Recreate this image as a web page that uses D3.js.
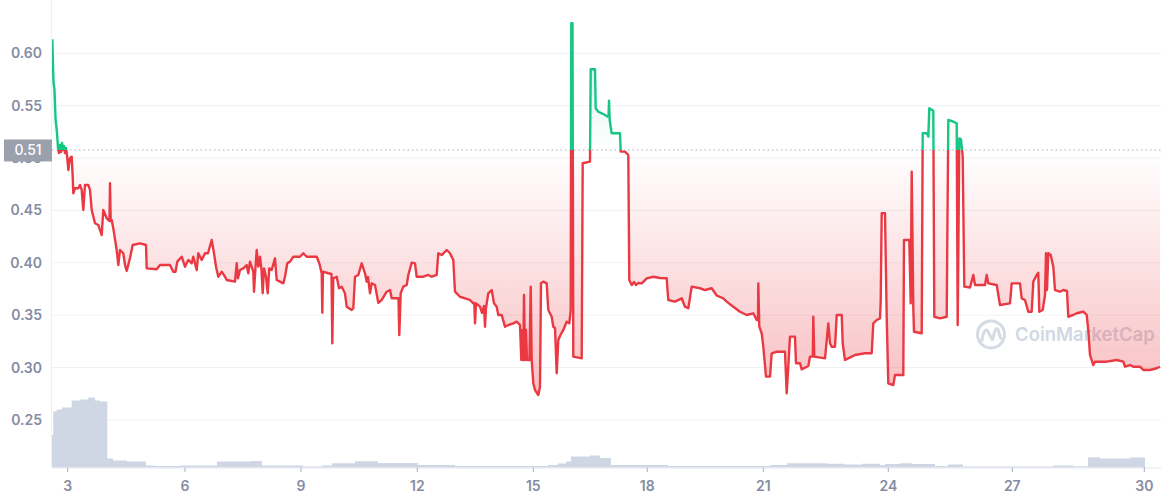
<!DOCTYPE html>
<html><head><meta charset="utf-8">
<script src="https://cdn.jsdelivr.net/npm/d3@7"></script>
<style>body{margin:0;background:#fff;overflow:hidden} svg{display:block;font-family:Inter,"Noto Sans",sans-serif}</style>
</head><body><svg id="c" width="1161" height="500"></svg>
<script>
// ---- data (sample index along the time axis, price in USD) ----
const sampleIndex = [0.3,1,1.5,2.5,3.5,5,6,7,8,9,10,11,12,13,14,15,16.3,18,19.7,20.7,21.3,23,26.3,28,29.7,31.3,33,36.3,38,39.7,43,46.3,49.7,51.3,54.7,56.3,57.5,58,58.7,59.7,61.3,64.7,66.3,68,71.3,73,74.7,78,80.7,88,94,94.7,104.7,108,118,121.3,123.5,125.3,129.7,133,136.3,139.7,141.3,144.7,146.3,149.7,153,156,159.7,162,164,166.3,169.7,173,174.7,183,184.7,186,188,191.3,194.7,196.3,198,201.3,202,203,204.7,206.3,208,209.5,210.7,212,214,215.7,217.3,219.7,223,224.7,228,231.3,233,235.3,238,241.3,248,251.3,254.7,264.7,267.3,269.7,270.3,271,276.3,279.5,280.3,281.3,284.7,287,289.7,293,294.7,299.7,301.3,303,306.3,309.7,313,314.7,316,318,319.7,323,326.3,329.7,334.7,338,339.7,346.5,347.3,348.7,351.3,354.7,356.3,359.7,363,364.7,371.3,376.3,379.7,384.7,386.3,389.7,394.7,398,401.3,403,408,413,418,421.3,422.3,423,424,428,430,432,433,434,436.3,439.7,442,444.7,446.3,449.7,453,456.3,461.3,464.7,468,469.3,470.5,471.3,472,473,474,475,477.5,478.7,479.7,481.3,483,486.3,488,489,491.3,494.7,496.3,499.7,501.3,503,504.7,506.3,508,511.3,514.7,517.3,518.7,519.3,520.5,521.3,529.7,530.7,538,538.7,543,543.7,546.3,549.7,553,555.3,556.5,557,557.7,558.7,559.7,568,568.7,573,576.3,577.3,579.7,582,584,586,589.7,594.7,601.3,608,614.7,616.3,623,629.7,633,636.3,639.7,648,653,659.7,664.7,671.3,674.7,681.3,688,694.7,701.3,704.7,706,706.3,707.3,709.7,711.3,714,718,719.7,724.7,733,734.7,736.3,738,743,744,748,749.7,756.3,758,760.8,761.3,762.3,773,776.3,778,779.7,783,784.7,789.7,790.7,793,799.7,803,813,819.7,821.3,824.7,828,828.7,829.7,833,834.7,836.3,841.3,843,851.3,852,857.3,858.7,859.7,861.3,862,869.7,870.7,875,876.3,877.3,881.3,882.3,888,894.7,896.3,901.3,904.7,905.7,907.3,909,910.7,912.3,918,921.3,923,933,934.7,936.3,944.7,948,958,959.7,968,969.7,973,976.3,979.7,981.3,984.7,986.3,987.3,990.7,993,994,995,996.3,998.7,1001.3,1003,1008,1011.3,1015,1016.3,1021.3,1024.7,1031.3,1034.7,1036.3,1038,1041.3,1043,1054.7,1064.7,1071.3,1073,1078,1081.3,1088,1091.3,1098,1104.7,1108];
const price = [0.6134,0.5888,0.5726,0.5650,0.5382,0.5239,0.5096,0.5048,0.5125,0.5058,0.5144,0.5077,0.5115,0.5048,0.5096,0.5029,0.4886,0.4998,0.5013,0.4822,0.4663,0.4711,0.4711,0.4743,0.4695,0.4504,0.4743,0.4743,0.4695,0.4504,0.4377,0.4361,0.4265,0.4504,0.4425,0.4409,0.4399,0.4759,0.4399,0.4409,0.4329,0.4122,0.3979,0.4122,0.4091,0.3979,0.3922,0.4046,0.4170,0.4186,0.4170,0.3947,0.3938,0.3979,0.3979,0.3915,0.3915,0.4011,0.4058,0.3963,0.4027,0.3995,0.4058,0.3931,0.4091,0.4027,0.4091,0.4091,0.4218,0.4091,0.3963,0.3867,0.3915,0.3867,0.3836,0.3820,0.3995,0.3852,0.3931,0.3947,0.3979,0.3900,0.4011,0.3915,0.3724,0.3884,0.4122,0.3963,0.4058,0.3931,0.3709,0.3947,0.3867,0.3709,0.3947,0.3931,0.4043,0.3836,0.3820,0.3804,0.3867,0.3995,0.4011,0.4058,0.4058,0.4091,0.4058,0.4058,0.3995,0.3900,0.3524,0.3915,0.3900,0.3893,0.3232,0.3852,0.3867,0.3757,0.3772,0.3709,0.3581,0.3549,0.3566,0.3867,0.3884,0.3995,0.3900,0.3820,0.3864,0.3709,0.3804,0.3788,0.3619,0.3645,0.3724,0.3740,0.3661,0.3661,0.3311,0.3709,0.3772,0.3788,0.3884,0.4001,0.3995,0.3867,0.3867,0.3884,0.3867,0.3884,0.4091,0.4074,0.4122,0.4091,0.4027,0.3724,0.3676,0.3661,0.3645,0.3613,0.3616,0.3422,0.3613,0.3581,0.3521,0.3588,0.3390,0.3569,0.3709,0.3740,0.3613,0.3581,0.3502,0.3502,0.3390,0.3406,0.3422,0.3438,0.3406,0.3072,0.3359,0.3072,0.3693,0.3072,0.3359,0.3072,0.3072,0.3772,0.3072,0.2850,0.2786,0.2738,0.2817,0.3804,0.3820,0.3804,0.3549,0.3485,0.3390,0.3378,0.2945,0.3263,0.3301,0.3359,0.3438,0.3422,0.3549,0.6286,0.6286,0.3104,0.3088,0.4950,0.4965,0.5847,0.5847,0.5475,0.5442,0.5427,0.5411,0.5395,0.5401,0.5547,0.5363,0.5299,0.5236,0.5236,0.5061,0.5061,0.5029,0.3836,0.3788,0.3817,0.3788,0.3807,0.3804,0.3852,0.3867,0.3855,0.3852,0.3645,0.3629,0.3661,0.3581,0.3566,0.3772,0.3757,0.3740,0.3757,0.3688,0.3661,0.3629,0.3581,0.3533,0.3502,0.3518,0.3454,0.3454,0.3804,0.3390,0.3327,0.3199,0.2913,0.2913,0.3136,0.3151,0.3151,0.2754,0.3008,0.3295,0.3295,0.3041,0.3041,0.2983,0.3015,0.3104,0.3104,0.3485,0.3104,0.3088,0.3422,0.3232,0.3199,0.3199,0.3502,0.3502,0.3232,0.3072,0.3104,0.3120,0.3136,0.3136,0.3422,0.3454,0.3470,0.3629,0.4473,0.4473,0.3485,0.2850,0.2833,0.2929,0.2929,0.4218,0.4218,0.3613,0.4870,0.3581,0.3342,0.3327,0.5236,0.5236,0.5204,0.5475,0.5452,0.3485,0.3470,0.3485,0.5363,0.5347,0.5332,0.3406,0.5188,0.5179,0.5013,0.3772,0.3764,0.3884,0.3788,0.3788,0.3884,0.3804,0.3788,0.3597,0.3613,0.3804,0.3804,0.3661,0.3645,0.3533,0.3533,0.3820,0.3884,0.3905,0.3533,0.3549,0.3693,0.4091,0.3740,0.4091,0.4074,0.3963,0.3740,0.3724,0.3740,0.3731,0.3485,0.3502,0.3518,0.3533,0.3502,0.3358,0.3120,0.3024,0.3056,0.3056,0.3072,0.3056,0.3008,0.3024,0.3008,0.3008,0.2977,0.2977,0.2993,0.3008];
const volumeIndex = [0,1.3,4.7,10,19.7,28,36.3,43,48,54.7,55.3,61,75,94,103,128,165,198,210,251,270,280,303,326,366,403,496,506,514,519,538,548,559,616,718,735,775,793,810,828,833,848,860,883,896,911,1001,1021,1036,1048,1078,1093,1109];
const volume = [32.5,56,58,60,67,68,70,67,66,66,9,7,6,2,1.5,2,6,6.5,2,1,2,4.3,6.3,4.5,2.5,1.5,2.5,4,6,11,12,9.4,2.5,1.5,2.5,4.3,3.7,3,3.7,2.5,3.5,4.3,3.5,1.5,3,1,2,1.3,10.3,9,10,0,0];
const tickIndex = [15.7,133,249,365.3,481.3,595.3,711.3,836.3,960.3,1092.3];
const tickLabels = ["3","6","9","12","15","18","21","24","27","30"];
const yTicks = [0.25,0.30,0.35,0.40,0.45,0.50,0.55,0.60];
const baselinePrice = 0.5077;

// ---- layout ----
const W = 1161, H = 500;
const L = 52, R = 1161, T = 10, B = 467.5;
const svg = d3.select("#c");
const x = d3.scaleLinear().domain([0, 1109]).range([L, R]);
const y = d3.scaleLinear().domain([0.2046, 0.6413]).range([B, T]);
const yv = d3.scaleLinear().domain([0, 80]).range([B, B - 80]);
const by = y(baselinePrice);

const defs = svg.append("defs");
const gr = defs.append("linearGradient").attr("id","gRed").attr("gradientUnits","userSpaceOnUse")
  .attr("x1",0).attr("x2",0).attr("y1",by).attr("y2",B);
gr.append("stop").attr("offset",0).attr("stop-color","#ea3943").attr("stop-opacity",0.0);
gr.append("stop").attr("offset",1).attr("stop-color","#ea3943").attr("stop-opacity",0.42);
const gg = defs.append("linearGradient").attr("id","gGreen").attr("gradientUnits","userSpaceOnUse")
  .attr("x1",0).attr("x2",0).attr("y1",T).attr("y2",by);
gg.append("stop").attr("offset",0).attr("stop-color","#16c784").attr("stop-opacity",0.25);
gg.append("stop").attr("offset",1).attr("stop-color","#16c784").attr("stop-opacity",0.0);
defs.append("clipPath").attr("id","cAbove").append("rect").attr("x",L).attr("y",0).attr("width",R-L).attr("height",by);
defs.append("clipPath").attr("id","cBelow").append("rect").attr("x",L).attr("y",by).attr("width",R-L).attr("height",H-by);

// grid
const grid = svg.append("g");
grid.selectAll("line").data(yTicks).join("line")
  .attr("x1",L).attr("x2",R).attr("y1",d=>y(d)).attr("y2",d=>y(d))
  .attr("stroke","#eff2f5").attr("stroke-width",1);
svg.append("line").attr("x1",L-0.5).attr("x2",L-0.5).attr("y1",0).attr("y2",B)
  .attr("stroke","#eff2f5");

// watermark
const wm = svg.append("g").attr("transform",`translate(${x(939)},${y(0.3316)})`).attr("opacity",0.9);
wm.append("circle").attr("r",13.5).attr("fill","none").attr("stroke","#d1d8e3").attr("stroke-width",3);
wm.append("path").attr("d","M-9,6 C-8,-3 -5,-7 -3,-3 L1,5 C2,7 3,-6 6,-6 C8,-6 8,2 10,4")
  .attr("fill","none").attr("stroke","#d1d8e3").attr("stroke-width",3).attr("stroke-linecap","round").attr("stroke-linejoin","round");
svg.append("text").attr("x",x(963)).attr("y",y(0.3316)+6.5).text("CoinMarketCap")
  .attr("font-size",18.5).attr("font-weight",600).attr("fill","#d1d8e3");

// volume
const vArea = d3.area().curve(d3.curveStepAfter).x((d,i)=>x(volumeIndex[i])).y0(B).y1(d=>yv(d));
svg.append("path").datum(volume).attr("d",vArea).attr("fill","#cfd6e4");

// price area + line split at baseline
const pts = price.map((p,i)=>[sampleIndex[i],p]);
const area = d3.area().x(d=>x(d[0])).y0(by).y1(d=>y(d[1]));
const line = d3.line().x(d=>x(d[0])).y(d=>y(d[1]));
svg.append("path").datum(pts).attr("d",area).attr("fill","url(#gRed)").attr("clip-path","url(#cBelow)");
svg.append("path").datum(pts).attr("d",area).attr("fill","url(#gGreen)").attr("clip-path","url(#cAbove)");

// baseline dotted
svg.append("line").attr("x1",L).attr("x2",R).attr("y1",by).attr("y2",by)
  .attr("stroke","#a6adbb").attr("stroke-width",1).attr("stroke-dasharray","1.5,3");

svg.append("path").datum(pts).attr("d",line).attr("fill","none").attr("stroke","#ea3943")
  .attr("stroke-width",2.4).attr("stroke-linejoin","round").attr("clip-path","url(#cBelow)");
svg.append("path").datum(pts).attr("d",line).attr("fill","none").attr("stroke","#16c784")
  .attr("stroke-width",2.4).attr("stroke-linejoin","round").attr("clip-path","url(#cAbove)");

// x axis
svg.append("line").attr("x1",L).attr("x2",R).attr("y1",B+0.5).attr("y2",B+0.5).attr("stroke","#e3e7ee");
const xg = svg.append("g");
xg.selectAll("line").data(tickIndex).join("line")
  .attr("x1",d=>x(d)).attr("x2",d=>x(d)).attr("y1",B).attr("y2",B+4.5).attr("stroke","#a6b0c3");
xg.selectAll("text").data(tickIndex).join("text")
  .attr("x",d=>x(d)).attr("y",491).attr("text-anchor","middle")
  .attr("font-size",14).attr("font-weight",600).attr("fill","#858ca2").text((d,i)=>tickLabels[i]);

// y axis labels
svg.append("g").selectAll("text").data(yTicks).join("text")
  .attr("x",42).attr("y",d=>y(d)+5).attr("text-anchor","end")
  .attr("font-size",14).attr("font-weight",600).attr("fill","#858ca2").text(d=>d.toFixed(2));

// baseline label (drawn over the 0.50 tick label, as in the original)
svg.append("rect").attr("x",4).attr("y",by-10.5).attr("width",48).attr("height",22).attr("fill","#9aa0ac");
svg.append("text").attr("x",28).attr("y",by+5).attr("text-anchor","middle")
  .attr("font-size",14).attr("font-weight",500).attr("fill","#fff").text(d3.format(".2f")(baselinePrice));
</script>
</body></html>
